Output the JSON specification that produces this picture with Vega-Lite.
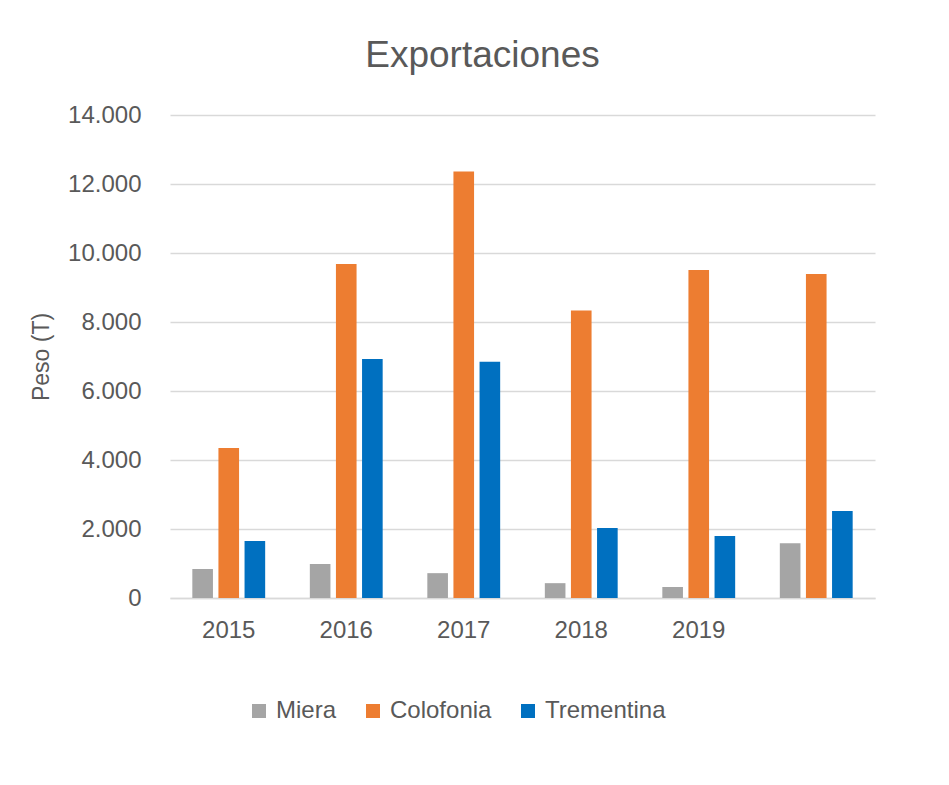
{
  "$schema": "https://vega.github.io/schema/vega-lite/v6.json",
  "width": 705,
  "height": 483,
  "autosize": {"type": "none"},
  "padding": {"left": 170, "top": 115, "right": 74, "bottom": 187},
  "background": "white",
  "title": {
    "text": "Exportaciones",
    "fontSize": 37,
    "font": "Liberation Sans",
    "fontWeight": "normal",
    "color": "#595959",
    "anchor": "middle",
    "offset": 28,
    "dx": -40
  },
  "config": {
    "view": {"stroke": null},
    "font": "Liberation Sans"
  },
  "data": {
    "values": [
      {"Año": "2015", "Serie": "Miera", "Peso": 840},
      {"Año": "2015", "Serie": "Colofonia", "Peso": 4350},
      {"Año": "2015", "Serie": "Trementina", "Peso": 1650},
      {"Año": "2016", "Serie": "Miera", "Peso": 985},
      {"Año": "2016", "Serie": "Colofonia", "Peso": 9680},
      {"Año": "2016", "Serie": "Trementina", "Peso": 6930},
      {"Año": "2017", "Serie": "Miera", "Peso": 720},
      {"Año": "2017", "Serie": "Colofonia", "Peso": 12360},
      {"Año": "2017", "Serie": "Trementina", "Peso": 6850},
      {"Año": "2018", "Serie": "Miera", "Peso": 430},
      {"Año": "2018", "Serie": "Colofonia", "Peso": 8330},
      {"Año": "2018", "Serie": "Trementina", "Peso": 2030},
      {"Año": "2019", "Serie": "Miera", "Peso": 320},
      {"Año": "2019", "Serie": "Colofonia", "Peso": 9510},
      {"Año": "2019", "Serie": "Trementina", "Peso": 1800},
      {"Año": " ", "Serie": "Miera", "Peso": 1590},
      {"Año": " ", "Serie": "Colofonia", "Peso": 9390},
      {"Año": " ", "Serie": "Trementina", "Peso": 2520}
    ]
  },
  "mark": {"type": "bar"},
  "encoding": {
    "x": {
      "field": "Año",
      "type": "nominal",
      "sort": null,
      "scale": {"paddingInner": 0.38, "paddingOuter": 0.19},
      "axis": {
        "title": null,
        "labelAngle": 0,
        "labelFontSize": 24,
        "labelColor": "#595959",
        "labelPadding": 20,
        "ticks": false,
        "domain": true,
        "domainColor": "#D9D9D9",
        "domainWidth": 1.5,
        "grid": false
      }
    },
    "xOffset": {
      "field": "Serie",
      "type": "nominal",
      "sort": ["Miera", "Colofonia", "Trementina"],
      "scale": {"paddingInner": 0.21, "paddingOuter": 0}
    },
    "y": {
      "field": "Peso",
      "type": "quantitative",
      "scale": {"domain": [0, 14000]},
      "axis": {
        "title": "Peso (T)",
        "titleFontSize": 23,
        "titleFontWeight": "normal",
        "titleColor": "#595959",
        "titlePadding": 14,
        "values": [0, 2000, 4000, 6000, 8000, 10000, 12000, 14000],
        "labelExpr": "replace(format(datum.value, ','), ',', '.')",
        "labelFontSize": 24,
        "labelColor": "#595959",
        "labelPadding": 29,
        "ticks": false,
        "domain": false,
        "gridColor": "#D9D9D9",
        "gridWidth": 1.5
      }
    },
    "color": {
      "field": "Serie",
      "type": "nominal",
      "sort": ["Miera", "Colofonia", "Trementina"],
      "scale": {
        "domain": ["Miera", "Colofonia", "Trementina"],
        "range": ["#A5A5A5", "#ED7D31", "#0070C0"]
      },
      "legend": {
        "title": null,
        "orient": "none",
        "direction": "horizontal",
        "legendX": 77,
        "legendY": 584,
        "symbolType": "square",
        "symbolSize": 196,
        "symbolStrokeWidth": 0,
        "labelFontSize": 24,
        "labelColor": "#595959",
        "labelOffset": 5,
        "columnPadding": 24
      }
    }
  }
}
